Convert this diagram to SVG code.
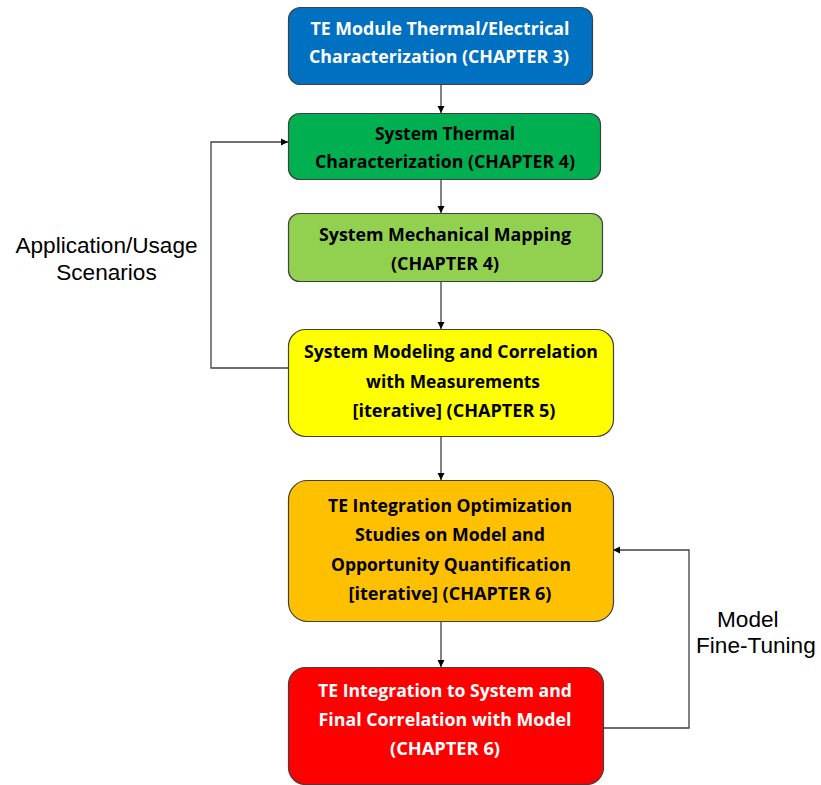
<svg xmlns="http://www.w3.org/2000/svg" width="821" height="785" viewBox="0 0 821 785">
<style>
.box{stroke:#404040;stroke-width:1.2}
.t{font-family:"Open Sans","Noto Sans","Liberation Sans",sans-serif;font-weight:bold;font-size:17px;text-anchor:middle}
.w{fill:#ffffff}
.k{fill:#000000}
.lbl{font-family:"Liberation Sans",Arial,sans-serif;font-size:22.6px;fill:#000}
.c{fill:none;stroke:#404040;stroke-width:1.3}
</style>
<defs>
<marker id="ah" markerUnits="userSpaceOnUse" markerWidth="8" markerHeight="8" refX="7" refY="4" orient="auto">
<path d="M0,0.5 L7,4 L0,7.5 Z" fill="#000"/>
</marker>
</defs>
<rect width="821" height="785" fill="#ffffff"/>
<g id="connectors">
<line class="c" x1="441" y1="84" x2="441" y2="113" marker-end="url(#ah)"/>
<line class="c" x1="441" y1="179" x2="441" y2="213" marker-end="url(#ah)"/>
<line class="c" x1="441" y1="281" x2="441" y2="329" marker-end="url(#ah)"/>
<line class="c" x1="441" y1="436" x2="441" y2="480" marker-end="url(#ah)"/>
<line class="c" x1="441" y1="621" x2="441" y2="667" marker-end="url(#ah)"/>
<path class="c" d="M288,368 H211 V142 H288" marker-end="url(#ah)"/>
<path class="c" d="M603,728 H689 V550 H613" marker-end="url(#ah)"/>
</g>
<g id="node1">
<rect class="box" x="288.5" y="7.5" width="304" height="77" rx="12" fill="#0070C0"/>
<text class="t w" x="440" y="35" textLength="259" lengthAdjust="spacingAndGlyphs">TE Module Thermal/Electrical</text>
<text class="t w" x="439" y="63" textLength="260" lengthAdjust="spacingAndGlyphs">Characterization (CHAPTER 3)</text>
</g>
<g id="node2">
<rect class="box" x="288.5" y="113.5" width="312" height="66" rx="11" fill="#00B050"/>
<text class="t k" x="445" y="140" textLength="140" lengthAdjust="spacingAndGlyphs">System Thermal</text>
<text class="t k" x="445" y="168" textLength="260" lengthAdjust="spacingAndGlyphs">Characterization (CHAPTER 4)</text>
</g>
<g id="node3">
<rect class="box" x="288.5" y="213.5" width="314" height="68" rx="11" fill="#92D050"/>
<text class="t k" x="445" y="241" textLength="252" lengthAdjust="spacingAndGlyphs">System Mechanical Mapping</text>
<text class="t k" x="445" y="270" textLength="108" lengthAdjust="spacingAndGlyphs">(CHAPTER 4)</text>
</g>
<g id="node4">
<rect class="box" x="288.5" y="329.5" width="325" height="107" rx="17" fill="#FFFF00"/>
<text class="t k" x="451" y="358" textLength="294" lengthAdjust="spacingAndGlyphs">System Modeling and Correlation</text>
<text class="t k" x="453" y="388" textLength="174" lengthAdjust="spacingAndGlyphs">with Measurements</text>
<text class="t k" x="454" y="417" textLength="203" lengthAdjust="spacingAndGlyphs">[iterative] (CHAPTER 5)</text>
</g>
<g id="node5">
<rect class="box" x="288.5" y="480.5" width="325" height="141" rx="19" fill="#FFC000"/>
<text class="t k" x="450" y="512" textLength="244" lengthAdjust="spacingAndGlyphs">TE Integration Optimization</text>
<text class="t k" x="450" y="541" textLength="190" lengthAdjust="spacingAndGlyphs">Studies on Model and</text>
<text class="t k" x="451" y="571" textLength="240" lengthAdjust="spacingAndGlyphs">Opportunity Quantification</text>
<text class="t k" x="450" y="600" textLength="203" lengthAdjust="spacingAndGlyphs">[iterative] (CHAPTER 6)</text>
</g>
<g id="node6">
<rect class="box" x="288.5" y="667.5" width="315" height="117" rx="17" fill="#FF0000"/>
<text class="t w" x="445" y="697" textLength="254" lengthAdjust="spacingAndGlyphs">TE Integration to System and</text>
<text class="t w" x="445" y="726" textLength="253" lengthAdjust="spacingAndGlyphs">Final Correlation with Model</text>
<text class="t w" x="445" y="755" textLength="110" lengthAdjust="spacingAndGlyphs">(CHAPTER 6)</text>
</g>
<g id="label-app">
<text class="lbl" x="106.5" y="253" text-anchor="middle">Application/Usage</text>
<text class="lbl" x="106.5" y="280" text-anchor="middle">Scenarios</text>
</g>
<g id="label-model">
<text class="lbl" x="717" y="627">Model</text>
<text class="lbl" x="696" y="653">Fine-Tuning</text>
</g>
</svg>
